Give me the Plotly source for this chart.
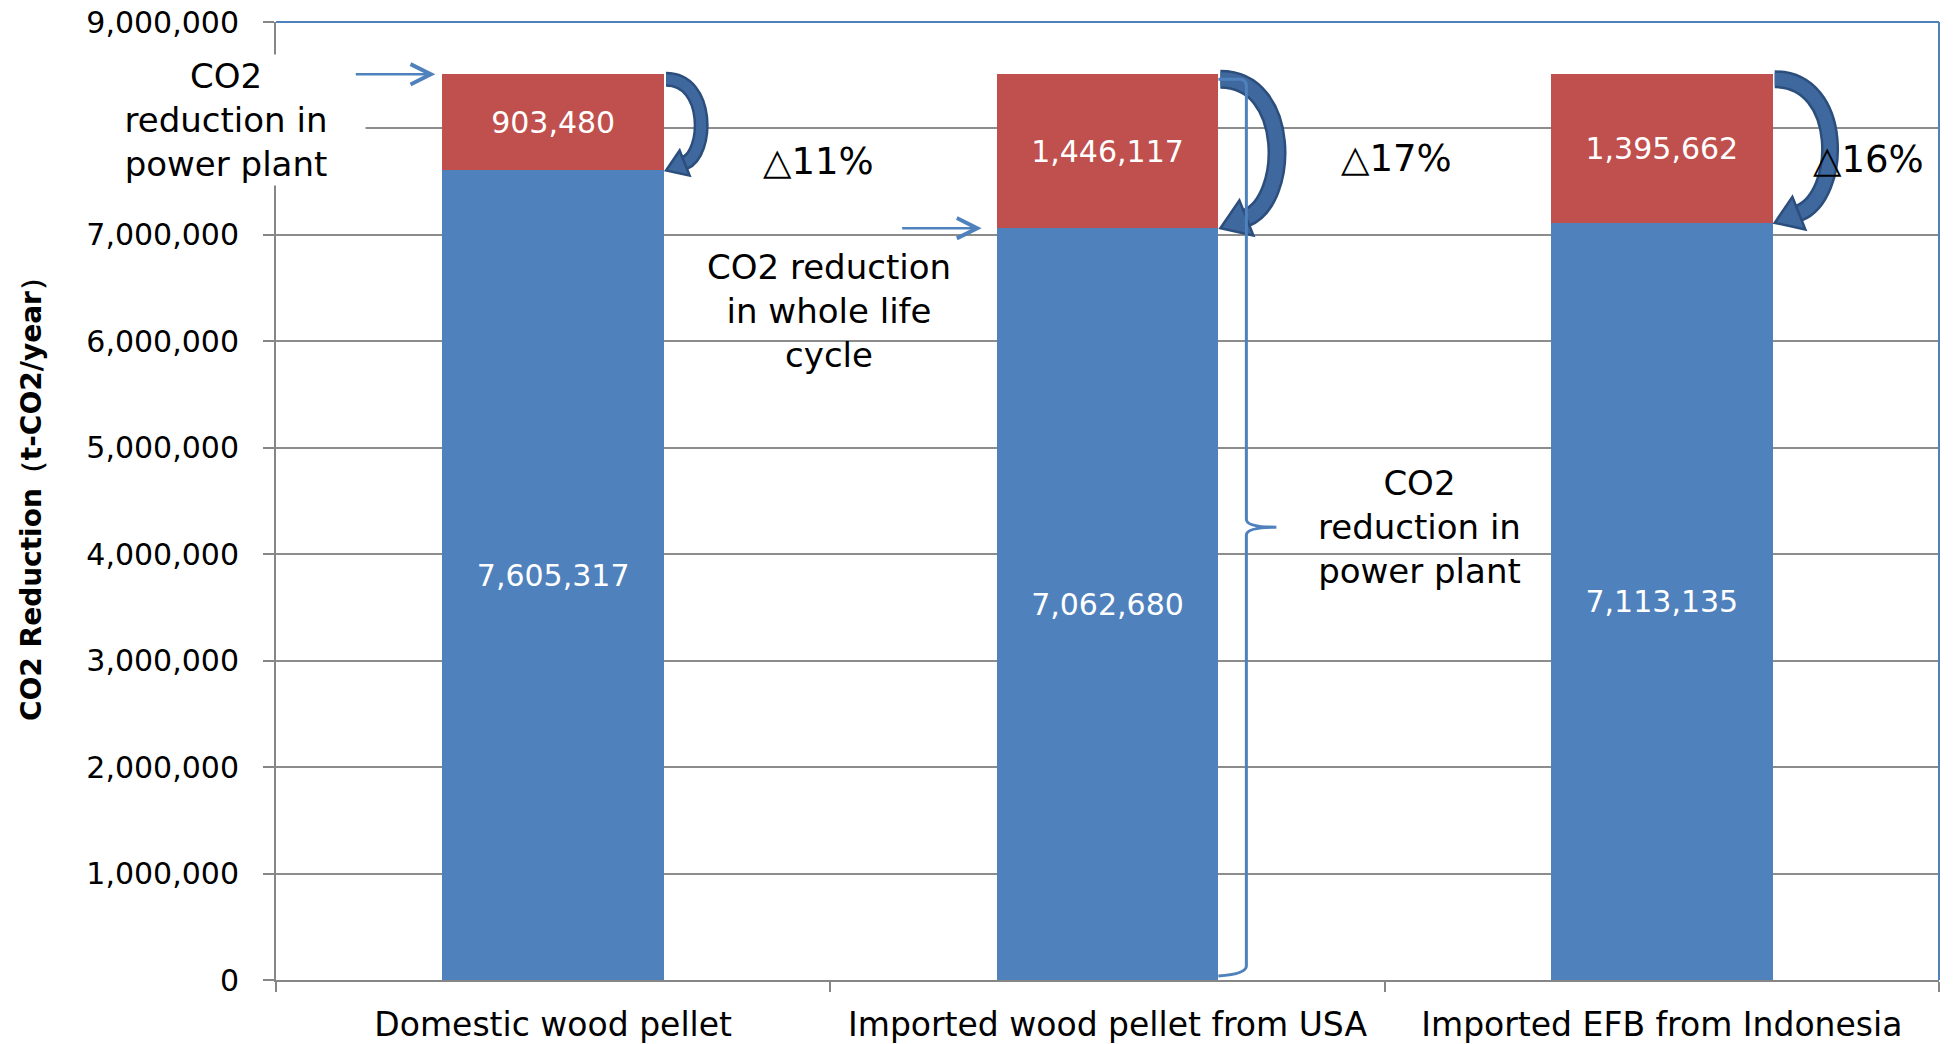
import plotly.graph_objects as go

# ---------------- data ----------------
categories = ["Domestic wood pellet", "Imported wood pellet from USA", "Imported EFB from Indonesia"]
reduction_base = [7605317, 7062680, 7113135]      # blue segment
reduction_extra = [903480, 1446117, 1395662]      # red segment
reduction_pct = ["△11%", "△17%", "△16%"]
y_tick_values = [0, 1000000, 2000000, 3000000, 4000000, 5000000, 6000000, 7000000, 8000000, 9000000]

# ---------------- layout constants ----------------
OFF = 8                       # default page body margin of the html output
W, H = 1953 - OFF, 1044 - OFF
ML, MR, MT, MB = 268, 14, 14, 64
X_RANGE = [-0.5, 2.5]
Y_RANGE = [0, 9000000]
PLOT_W = W - ML - MR
PLOT_H = H - MT - MB
PXX = (X_RANGE[1] - X_RANGE[0]) / PLOT_W   # data units per px (x)
PXY = (Y_RANGE[1] - Y_RANGE[0]) / PLOT_H   # data units per px (y)
BAR_W = 0.4
BLUE = "#4F81BD"
RED = "#C0504D"
GRID = "#8C8C8C"
AXIS = "#868686"
ARROW_FILL = "#3F689E"
ARROW_EDGE = "#2C4E7C"
FONT = "DejaVu Sans"


def paper_x(page_px):
    return (page_px - OFF - ML) / PLOT_W


def paper_y(page_py):
    return 1 - (page_py - OFF - MT) / PLOT_H


xs = list(range(len(categories)))
totals = [b + r for b, r in zip(reduction_base, reduction_extra)]

fig = go.Figure()
fig.add_trace(go.Bar(
    x=xs, y=reduction_base, width=BAR_W, marker=dict(color=BLUE, line=dict(width=0)),
    text=[f"{v:,}" for v in reduction_base], textposition="inside", insidetextanchor="middle",
    textfont=dict(color="white", size=30, family=FONT), constraintext="none", name="base",
))
fig.add_trace(go.Bar(
    x=xs, y=reduction_extra, width=BAR_W, marker=dict(color=RED, line=dict(width=0)),
    text=[f"{v:,}" for v in reduction_extra], textposition="inside", insidetextanchor="middle",
    textfont=dict(color="white", size=30, family=FONT), constraintext="none", name="extra",
))


def pt(x0, y0, u, v):
    """point offset from data anchor (x0, y0) by u px right, v px down"""
    return f"{x0 + u * PXX:.5f},{y0 - v * PXY:.1f}"


shapes = []

# curved block arrows on the right of each bar (from top down to blue/red boundary)
bulges = [34, 55, 54]
thick = [10, 14, 13]
for i in xs:
    xr = xs[i] + BAR_W / 2
    yt = totals[i]
    hp = (totals[i] - reduction_base[i]) / PXY
    b = bulges[i]
    t = thick[i]
    d = (-0.93, 0.37)
    n = (0.37, 0.93)
    hl = 2.0 * t
    hw = 1.35 * t
    S = (2, 5)
    T = (2, hp)
    E = (T[0] - d[0] * hl, T[1] - d[1] * hl)
    C1 = (S[0] + 1.3 * b, S[1])
    k = (1.3 * b - E[0]) / 0.93
    C2 = (E[0] - d[0] * k, E[1] - d[1] * k)
    shaft = (f"M{pt(xr, yt, *S)} C{pt(xr, yt, *C1)} {pt(xr, yt, *C2)} {pt(xr, yt, *E)}")
    shapes.append(dict(type="path", path=shaft, xref="x", yref="y", layer="above",
                       line=dict(color=ARROW_EDGE, width=t + 5), fillcolor="rgba(0,0,0,0)"))
    shapes.append(dict(type="path", path=shaft, xref="x", yref="y", layer="above",
                       line=dict(color=ARROW_FILL, width=t), fillcolor="rgba(0,0,0,0)"))
    w1 = (E[0] + n[0] * hw, E[1] + n[1] * hw)
    w2 = (E[0] - n[0] * hw, E[1] - n[1] * hw)
    head = f"M{pt(xr, yt, *w1)} L{pt(xr, yt, *T)} L{pt(xr, yt, *w2)} Z"
    shapes.append(dict(type="path", path=head, xref="x", yref="y", layer="above",
                       line=dict(color=ARROW_EDGE, width=2.5), fillcolor=ARROW_FILL))

# brace to the right of the second bar (spanning whole bar height)
xr = xs[1] + BAR_W / 2
yt = totals[1]
xv = 28
top_v = 5
bot_v = totals[1] / PXY - 6
mid_v = totals[1] / PXY / 2
brace = (f"M{pt(xr, yt, 0, top_v)} L{pt(xr, yt, xv - 7, top_v)} Q{pt(xr, yt, xv, top_v)} {pt(xr, yt, xv, top_v + 7)} "
         f"L{pt(xr, yt, xv, mid_v - 8)} Q{pt(xr, yt, xv, mid_v)} {pt(xr, yt, xv + 30, mid_v)} "
         f"Q{pt(xr, yt, xv, mid_v)} {pt(xr, yt, xv, mid_v + 8)} "
         f"L{pt(xr, yt, xv, bot_v - 8)} Q{pt(xr, yt, xv, bot_v)} {pt(xr, yt, 0, bot_v + 2)}")
shapes.append(dict(type="path", path=brace, xref="x", yref="y", layer="above",
                   line=dict(color=BLUE, width=3), fillcolor="rgba(0,0,0,0)"))

# blue plot-area border (top and right)
shapes.append(dict(type="line", xref="paper", yref="paper", x0=0, x1=1, y0=1, y1=1,
                   line=dict(color=BLUE, width=2), layer="above"))
shapes.append(dict(type="line", xref="paper", yref="paper", x0=1, x1=1, y0=0, y1=1,
                   line=dict(color=BLUE, width=2), layer="above"))

annotations = []
txt = dict(family=FONT, size=34, color="black")
C = dict(xanchor="center", yanchor="middle", showarrow=False)

# y-axis title
annotations.append(dict(text="<b>CO2 Reduction（t-CO2/year）</b>", xref="paper", yref="paper",
                        x=paper_x(31), y=paper_y(492), textangle=-90,
                        font=dict(family=FONT, size=28, color="black"), **C))

# text labels
annotations.append(dict(text="CO2<br>reduction in<br>power plant", xref="paper", yref="paper",
                        x=paper_x(226), y=paper_y(120), font=txt,
                        bgcolor="white", width=276, borderpad=1, **C))
annotations.append(dict(text="CO2 reduction<br>in whole life<br>cycle", xref="x", yref="y",
                        x=0.498, y=6285000, font=txt, **C))
annotations.append(dict(text="CO2<br>reduction in<br>power plant", xref="x", yref="y",
                        x=1.562, y=4256000, font=txt, **C))

pct_x = [0.478, 1.522, 2.372]
pct_y = [7685000, 7720000, 7710000]
for p, px_, py_ in zip(reduction_pct, pct_x, pct_y):
    annotations.append(dict(text=p, xref="x", yref="y", x=px_, y=py_,
                            font=dict(family=FONT, size=37, color="black"), **C))

# straight pointer arrows
annotations.append(dict(text="", xref="x", yref="y", axref="x", ayref="y",
                        x=xs[0] - BAR_W / 2 - 7 * PXX, y=totals[0],
                        ax=xs[0] - BAR_W / 2 - 88 * PXX, ay=totals[0],
                        showarrow=True, arrowhead=5, arrowsize=1.6, arrowwidth=2.5, arrowcolor=BLUE))
annotations.append(dict(text="", xref="x", yref="y", axref="x", ayref="y",
                        x=xs[1] - BAR_W / 2 - 15 * PXX, y=reduction_base[1],
                        ax=xs[1] - BAR_W / 2 - 96 * PXX, ay=reduction_base[1],
                        showarrow=True, arrowhead=5, arrowsize=1.6, arrowwidth=2.5, arrowcolor=BLUE))

fig.update_layout(
    width=W, height=H, barmode="stack", showlegend=False,
    margin=dict(l=ML, r=MR, t=MT, b=MB, pad=0, autoexpand=False),
    paper_bgcolor="white", plot_bgcolor="white",
    font=dict(family=FONT, color="black"),
    shapes=shapes, annotations=annotations,
    xaxis=dict(range=X_RANGE, tickmode="array", tickvals=xs, ticktext=categories, ticks="",
               tickfont=dict(family=FONT, size=33, color="black"), ticklabelstandoff=14,
               automargin=False, ticklabeloverflow="allow",
               showline=True, linecolor=AXIS, linewidth=2, showgrid=False, zeroline=False,
               minor=dict(tickmode="array", tickvals=[-0.5, 0.5, 1.5, 2.5], ticks="outside",
                          ticklen=10, tickcolor=AXIS, tickwidth=2, showgrid=False)),
    yaxis=dict(range=Y_RANGE, tickmode="array", tickvals=y_tick_values, tickformat=",d",
               tickfont=dict(family=FONT, size=30, color="black"), ticks="outside", ticklen=11,
               tickcolor=AXIS, tickwidth=2, ticklabelstandoff=18, automargin=False,
               ticklabeloverflow="allow",
               showline=True, linecolor=AXIS, linewidth=2,
               showgrid=True, gridcolor=GRID, gridwidth=1.5, zeroline=False),
)

fig.write_html("out.html")
